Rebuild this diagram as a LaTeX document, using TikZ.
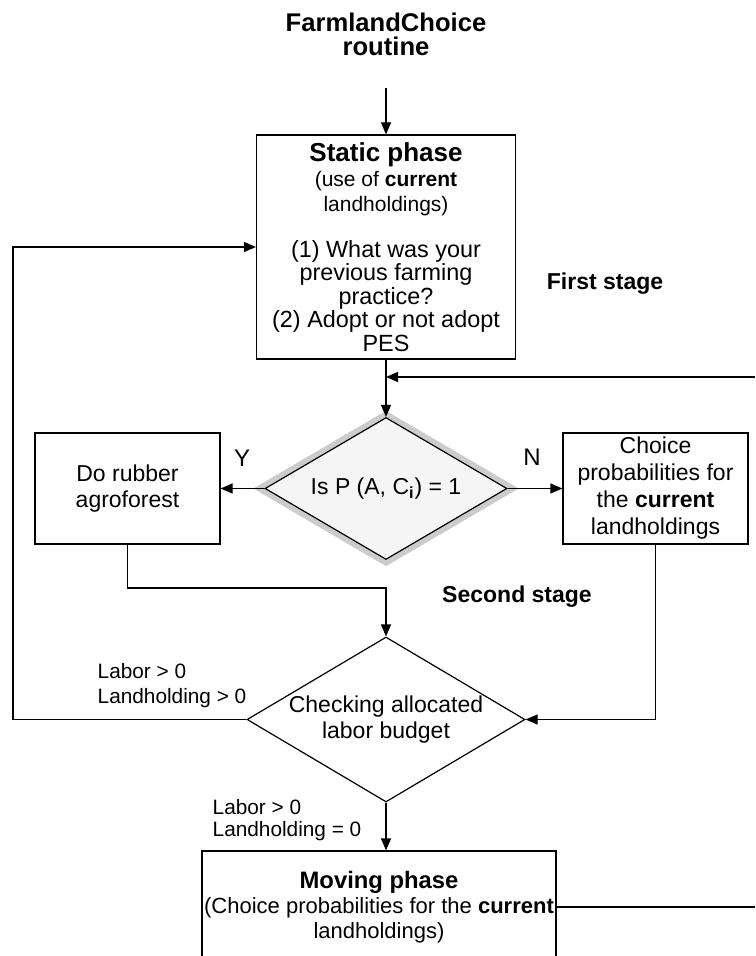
\documentclass[tikz,border=0pt]{standalone}
\usepackage{fontspec}
\setmainfont{Liberation Sans}
\usetikzlibrary{shapes.geometric, arrows.meta}

\begin{document}
\begin{tikzpicture}[x=0.5pt, y=-0.5pt, >={Triangle[length=6pt, width=5pt]}, line width=0.6pt,
  box/.style={draw, rectangle, align=center, inner sep=0pt},
  decision/.style={draw, diamond, align=center, inner sep=0pt, aspect=1.7},
  lbl/.style={align=left, inner sep=0pt}]
\useasboundingbox (0,0) rectangle (755,956);
\clip (0,0) rectangle (755,956);

\node[align=center, font=\fontsize{12.8}{12}\selectfont\bfseries] (title) at (386,34) {FarmlandChoice\\routine};
\coordinate (start) at (386,88);

% first stage
\node[box, minimum width=129.5pt, minimum height=112pt, font=\fontsize{11.7}{11.7}\selectfont] (static) at (386,247)
  {{\fontsize{13}{13}\selectfont\bfseries Static phase}\\[0.8pt]
   {\fontsize{10.5}{12}\selectfont (use of \textbf{current}}\\[0.8pt]
   {\fontsize{10.5}{12}\selectfont landholdings)}\\[11.3pt]
   (1) What was your\\ previous farming\\ practice?\\ (2) Adopt or not adopt\\ PES};
\node[font=\fontsize{11.5}{12}\selectfont\bfseries] (first) at (605,284) {First stage};

\node[decision, minimum width=121pt, minimum height=71pt, fill=black!4,
  preaction={draw=black!20, line width=6pt}, font=\fontsize{11.5}{12}\selectfont] (d1) at (386,488.5)
  {Is P (A, C\textsubscript{\textbf{i}}) = 1};
\node[box, minimum width=92.5pt, minimum height=55.5pt, font=\fontsize{11.5}{13}\selectfont] (rubber) at (127.5,488.5)
  {Do rubber\\agroforest};
\node[box, minimum width=92.5pt, minimum height=55.5pt, font=\fontsize{11.5}{13.5}\selectfont] (choice) at (655.5,488.5)
  {Choice\\probabilities for\\the \textbf{current}\\landholdings};
\node[font=\fontsize{12}{12}\selectfont] (yes) at (242,458) {Y};
\node[font=\fontsize{12}{12}\selectfont] (no) at (532,457) {N};

% second stage
\node[font=\fontsize{11.5}{12}\selectfont\bfseries] (second) at (517,597) {Second stage};
\node[decision, minimum width=139pt, minimum height=82.5pt, font=\fontsize{11.5}{13}\selectfont] (d2) at (386,719.5)
  {Checking allocated\\labor budget};
\node[lbl, font=\fontsize{10.4}{12.5}\selectfont] (lab1) at (172,686) {Labor > 0\\Landholding > 0};
\node[lbl, font=\fontsize{10.4}{11}\selectfont] (lab2) at (287,820) {Labor > 0\\Landholding = 0};

\node[box, minimum width=177pt, minimum height=56pt, font=\fontsize{11}{12.5}\selectfont] (moving) at (379,907)
  {{\fontsize{11.9}{12}\selectfont\bfseries Moving phase}\\(Choice probabilities for the \textbf{current}\\landholdings)};

\coordinate (r1) at (755,377);
\coordinate (r2) at (755,907);
\coordinate (j1) at (386,588);
\coordinate (l1) at (13,247);

\draw[->] (start) -- (start |- static.north);
\draw[->] (static.south) -- (d1.north);
\draw[->] (r1) -- (r1 -| static.south);
\draw[->] (d1.west) -- (rubber.east);
\draw[->] (d1.east) -- (choice.west);
\draw[->] (rubber.south) |- (j1) -- (d2.north);
\draw[->] (choice.south) |- (d2.east);
\draw[->] (d2.west) -| (l1) -- (static.west);
\draw[->] (d2.south) -- (d2.south |- moving.north);
\draw (moving.east) -- (r2);
\end{tikzpicture}
\end{document}
